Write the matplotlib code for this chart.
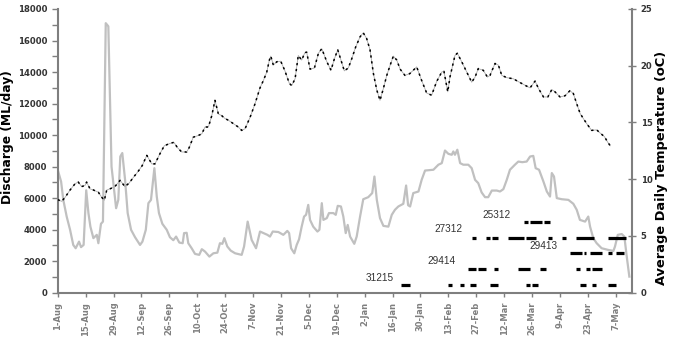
import matplotlib
matplotlib.use("Agg")
import matplotlib.pyplot as plt
from matplotlib.ticker import MultipleLocator
import numpy as np
import pandas as pd

plt.rcParams['font.family'] = ['Liberation Sans', 'DejaVu Sans']

season_start = pd.Timestamp("2011-08-01")

tick_labels = ["1-Aug", "15-Aug", "29-Aug", "12-Sep", "26-Sep", "10-Oct", "24-Oct",
               "7-Nov", "21-Nov", "5-Dec", "19-Dec", "2-Jan", "16-Jan", "30-Jan",
               "13-Feb", "27-Feb", "12-Mar", "26-Mar", "9-Apr", "23-Apr", "7-May"]

# Discharge (ML/day), x given as days since 1 August
discharge_day = [0, 1.7, 2.8, 4.5, 6.2, 7.8, 9.0, 10.7, 11.7, 13.0, 14.3, 15.4, 16.4, 17.9,
                 19.6, 20.4, 21.7, 22.7, 24.1, 25.4, 27.0, 29.3, 30.4, 31.4, 32.4, 33.8,
                 35.1, 36.8, 38.8, 41.3, 42.5, 44.2, 45.5, 46.8, 48.5, 49.7, 50.8, 52.5,
                 54.7, 56.3, 58.0, 59.4, 61.0, 62.7, 63.4, 64.7, 65.5, 67.2, 68.9, 71.0,
                 72.3, 73.9, 76.1, 78.1, 80.1, 81.4, 82.6, 83.6, 85.1, 86.8, 89.0, 92.3,
                 93.5, 95.3, 97.3, 99.5, 101.5, 103.2, 105.2, 106.5, 107.9, 110.7, 113.2,
                 115.2, 116.1, 117.1, 118.7, 119.9, 121.1, 122.4, 123.6, 124.6, 125.7,
                 126.6, 128.2, 130.3, 131.3, 132.5, 133.3, 135.0, 136.1, 138.3, 139.5,
                 140.5, 142.1, 143.3, 144.5, 145.5, 146.7, 148.8, 150.0, 151.7, 153.3,
                 155.8, 157.8, 158.9, 160.1, 161.7, 163.4, 165.9, 167.6, 169.2, 170.9,
                 173.4, 174.8, 175.8, 176.8, 178.4, 181.0, 182.6, 184.3, 188.5, 191.0,
                 192.7, 194.3, 196.0, 197.7, 198.5, 199.3, 200.5, 201.9, 203.5, 206.0,
                 207.7, 209.4, 211.0, 212.7, 214.4, 216.0, 217.8, 220.3, 221.9, 223.6,
                 225.3, 226.9, 229.4, 231.1, 233.1, 235.3, 237.0, 238.6, 239.8, 241.5,
                 243.7, 245.4, 247.0, 247.9, 249.0, 250.4, 252.9, 256.2, 258.7, 260.4,
                 262.0, 264.6, 266.2, 267.1, 268.7, 270.4, 272.9, 276.3, 278.8, 279.6,
                 281.0, 283.0, 284.3, 285.5, 286.8]
discharge_ml = [7800, 7050, 5890, 4830, 3990, 3030, 2820, 3240, 2890, 3030, 6500, 5060, 4190, 3460,
                3670, 3140, 4370, 4510, 17100, 16900, 8000, 5360, 5890, 8640, 8860, 7160,
                5050, 3990, 3520, 3030, 3240, 3990, 5680, 5890, 7900, 6100, 5050, 4370,
                3990, 3520, 3330, 3560, 3180, 3140, 3780, 3800, 3140, 2820, 2460, 2400,
                2760, 2610, 2290, 2500, 2540, 3140, 3100, 3460, 2930, 2670, 2500, 2400,
                2930, 4510, 3350, 2820, 3880, 3780, 3670, 3560, 3880, 3850, 3670,
                3920, 3780, 2820, 2500, 3030, 3390, 4190, 4830, 4940, 5570,
                4620, 4190, 3880, 3990, 5680, 4620, 4730, 5050, 5050, 4940,
                5510, 5470, 4830, 3780, 4300, 3560, 3100, 3560, 4830, 5930,
                6060, 6320, 7370, 5890, 4730, 4240, 4190, 4940, 5260, 5470,
                5640, 6800, 5550, 5470, 6320, 6420, 7160, 7750, 7800, 8120,
                8220, 9020, 8810, 8750, 8960, 8750, 9070, 8220, 8120, 8120,
                7900, 7160, 6950, 6360, 6060, 6060, 6480, 6480, 6420, 6570,
                7160, 7800, 8120, 8320, 8280, 8320, 8640, 8680, 7900, 7800,
                7050, 6420, 6100, 7590, 7370, 6000, 5930, 5890, 5640, 5260,
                4620, 4510, 4830, 4190, 3460, 3140, 2820, 2710, 2650, 2930,
                3670, 3720, 3560, 2290, 1020]

# Average daily water temperature (oC), x given as days since 1 August
temp_day = [0, 2.0, 3.7, 6.2, 8.7, 10.3, 12.0, 13.7, 14.5, 16.2, 17.9, 20.4, 22.1, 23.4,
            24.6, 26.2, 28.7, 31.3, 33.7, 35.8, 37.9, 40.4, 42.4, 44.7, 47.2, 48.8,
            51.3, 53.5, 56.3, 58.3, 60.0, 62.2, 64.7, 66.0, 68.0, 70.5, 72.3, 73.9,
            75.6, 77.3, 78.9, 80.6, 82.3, 83.9, 85.6, 88.1, 90.6, 92.3, 94.0, 96.5,
            99.0, 101.5, 103.2, 104.9, 106.2, 106.9, 108.2, 109.9, 111.9, 114.0,
            116.2, 117.4, 119.1, 120.7, 122.4, 124.0, 124.9, 126.6, 128.8, 130.8,
            132.5, 134.9, 137.1, 138.8, 140.5, 142.1, 143.8, 145.8, 147.5, 149.5,
            151.7, 153.3, 155.0, 156.7, 158.4, 160.1, 161.7, 163.4, 165.1, 166.8,
            168.4, 170.1, 171.8, 174.2, 176.6, 178.4, 180.1, 182.6, 185.1, 187.6,
            190.1, 192.7, 193.8, 195.7, 196.8, 199.3, 200.5, 202.7, 205.2, 207.7,
            209.4, 211.0, 213.5, 215.6, 216.9, 219.4, 221.1, 222.8, 225.3, 228.6,
            231.1, 235.3, 237.0, 239.5, 241.2, 243.7, 245.9, 247.9, 249.5, 252.0,
            254.5, 257.0, 258.7, 260.4, 262.1, 263.7, 265.4, 267.9, 270.4, 272.6,
            274.3, 276.0, 277.2]
temp_c = [8.2, 8.05, 8.4, 9.05, 9.6, 9.75, 9.35, 9.45, 9.75, 9.15, 9.05, 8.85, 8.4, 8.15,
          9.05, 9.15, 9.35, 9.9, 9.35, 9.65, 10.15, 10.7, 11.2, 12.1, 11.35, 11.35,
          12.25, 12.95, 13.15, 13.25, 12.8, 12.4, 12.4, 12.8, 13.7, 13.85, 14.0, 14.6,
          14.6, 15.6, 16.95, 15.75, 15.6, 15.35, 15.2, 14.9, 14.6, 14.3, 14.45, 15.45,
          16.65, 18.05, 18.7, 19.45, 20.5, 20.85, 20.05, 20.35, 20.4, 19.55,
          18.45, 18.25, 18.85, 20.9, 20.5, 21.15, 21.2, 19.7, 19.8, 21.1,
          21.5, 20.4, 19.6, 20.6, 21.4, 20.5, 19.55, 19.8, 20.6, 21.65,
          22.55, 22.9, 22.4, 21.4, 19.3, 17.85, 16.95, 18.0, 19.15, 20.05,
          20.85, 20.5, 19.7, 19.15, 19.3, 19.6, 19.9, 18.7, 17.6, 17.4,
          18.6, 19.45, 19.5, 17.7, 19.0, 20.9, 21.1, 20.35, 19.45, 18.55,
          19.0, 19.75, 19.6, 19.0, 19.15, 20.2, 20.05, 19.15, 18.95, 18.85,
          18.6, 18.2, 18.05, 18.65, 18.0, 17.25, 17.25, 17.9, 17.7, 17.25,
          17.35, 17.8, 17.55, 16.65, 15.8, 15.35, 14.9, 14.3, 14.35, 14.0,
          13.75, 13.25, 12.95]

# Detection periods for each tagged fish, drawn at a fixed discharge level
tag_ids = ["31215", "29414", "29413", "27312", "25312"]
tag_levels = [500, 1500, 2500, 3500, 4500]
periods_31215 = [("2012-01-20", "2012-01-25"), ("2012-02-13", "2012-02-15"),
                 ("2012-02-19", "2012-02-21"), ("2012-02-24", "2012-02-27"),
                 ("2012-03-05", "2012-03-09"), ("2012-03-23", "2012-03-25"),
                 ("2012-03-26", "2012-03-29"), ("2012-04-19", "2012-04-22"),
                 ("2012-04-25", "2012-04-27"), ("2012-05-03", "2012-05-07")]
periods_29414 = [("2012-02-23", "2012-02-27"), ("2012-02-28", "2012-03-03"),
                 ("2012-03-07", "2012-03-09"), ("2012-03-19", "2012-03-25"),
                 ("2012-03-30", "2012-04-02"), ("2012-04-17", "2012-04-19"),
                 ("2012-04-22", "2012-04-24"), ("2012-04-25", "2012-04-30")]
periods_29413 = [("2012-04-14", "2012-04-20"), ("2012-04-21", "2012-04-22"),
                 ("2012-04-24", "2012-04-30"), ("2012-05-03", "2012-05-05"),
                 ("2012-05-07", "2012-05-11")]
periods_27312 = [("2012-02-25", "2012-02-27"), ("2012-03-03", "2012-03-05"),
                 ("2012-03-06", "2012-03-09"), ("2012-03-14", "2012-03-22"),
                 ("2012-03-23", "2012-03-28"), ("2012-04-03", "2012-04-05"),
                 ("2012-04-10", "2012-04-12"), ("2012-04-17", "2012-04-26"),
                 ("2012-05-03", "2012-05-12")]
periods_25312 = [("2012-03-22", "2012-03-24"), ("2012-03-25", "2012-03-31"),
                 ("2012-04-01", "2012-04-04")]
tag_periods = [periods_31215, periods_29414, periods_29413, periods_27312, periods_25312]


def season_day(date_str):
    return (pd.Timestamp(date_str) - season_start).days


GREY_AXIS = "#7f7f7f"
TEXT = "#333333"
WIDE = ["DejaVu Sans"]

fig = plt.figure(figsize=(6.75, 3.42), dpi=100)
ax = fig.add_axes([0.0855, 0.1442, 0.8504, 0.8295])
ax2 = ax.twinx()

# discharge hydrograph
ax.plot(discharge_day, discharge_ml, color="#c0c0c0", lw=1.6, zorder=2)

# detection bars
for tag, level, periods in zip(tag_ids, tag_levels, tag_periods):
    starts = [season_day(s) for s, _ in periods]
    ends = [season_day(e) for _, e in periods]
    ax.hlines([level] * len(starts), starts, ends, colors="black", lw=2.3,
              capstyle="butt", zorder=3)

label_pos = {"31215": (161.7, 950), "29414": (192.7, 2030), "27312": (195.8, 4050),
             "25312": (220.3, 4940), "29413": (243.5, 2970)}
for tag in tag_ids:
    x, y = label_pos[tag]
    ax.text(x, y, tag, ha="center", va="center", fontsize=7.2, color=TEXT)

# temperature: faint connecting line under short black dashes
ax2.plot(temp_day, temp_c, color="#a8a8a8", lw=0.6, zorder=2)
ax2.plot(temp_day, temp_c, color="black", lw=1.1, linestyle=(0, (1.5, 2.4)), zorder=3)

n_days = 288
tick_days = np.arange(len(tick_labels)) * 14
ax.set_xlim(0, n_days)
ax.set_xticks(tick_days)
ax.set_xticklabels(tick_labels, rotation=90, fontsize=6.0, fontweight="bold",
                   color=TEXT, family=WIDE)

ax.set_ylim(0, 18000)
ax.yaxis.set_major_locator(MultipleLocator(2000))
ax.yaxis.set_minor_locator(MultipleLocator(1000))
ax.tick_params(axis="y", which="both", colors=GREY_AXIS, length=4, width=1)
ax.tick_params(axis="x", colors=GREY_AXIS, length=3, width=1)
for lbl in ax.get_yticklabels():
    lbl.set_color(TEXT)
    lbl.set_fontsize(6.1)
    lbl.set_fontweight("bold")
    lbl.set_family(WIDE)

ax2.set_ylim(0, 25)
ax2.yaxis.set_major_locator(MultipleLocator(5))
ax2.tick_params(axis="y", direction="inout", length=6, width=1, colors=GREY_AXIS)
for lbl in ax2.get_yticklabels():
    lbl.set_color(TEXT)
    lbl.set_fontsize(6.1)
    lbl.set_fontweight("bold")
    lbl.set_family(WIDE)

for a in (ax, ax2):
    a.spines["top"].set_visible(False)
    for side in ("left", "right", "bottom"):
        a.spines[side].set_color(GREY_AXIS)
        a.spines[side].set_linewidth(1.5)
ax.spines["right"].set_visible(False)
ax2.spines["left"].set_visible(False)
ax2.spines["bottom"].set_visible(False)

ax.set_ylabel("Discharge (ML/day)", fontsize=8.8, fontweight="bold", color="black",
              family=WIDE)
ax.yaxis.set_label_coords(-0.076, 0.55)
ax2.set_ylabel("Average Daily Temperature (oC)", fontsize=9.4, fontweight="bold",
               color="black", family=WIDE)
ax2.yaxis.set_label_coords(1.041, 0.44)

fig.savefig("out.png", dpi=100)
